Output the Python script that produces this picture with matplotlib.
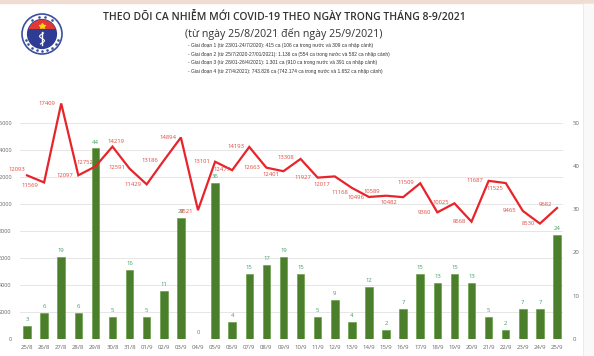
import numpy as np
import matplotlib.pyplot as plt
from matplotlib.patches import Circle, Wedge, Rectangle

plt.rcParams['font.family'] = ['Open Sans', 'DejaVu Sans']

dates = ["25/8", "26/8", "27/8", "28/8", "29/8", "30/8", "31/8", "01/9", "02/9", "03/9",
         "04/9", "05/9", "06/9", "07/9", "08/9", "09/9", "10/9", "11/9", "12/9", "13/9",
         "14/9", "15/9", "16/9", "17/9", "18/9", "19/9", "20/9", "21/9", "22/9", "23/9",
         "24/9", "25/9"]
# ca nhap canh (cot, truc phai)
imported = [3, 6, 19, 6, 44, 5, 16, 5, 11, 28, 0, 36, 4, 15, 17, 19, 15, 5, 9, 4,
            12, 2, 7, 15, 13, 15, 13, 5, 2, 7, 7, 24]
# ca trong nuoc (duong, truc trai)
domestic = [12093, 11569, 17409, 12097, 12752, 14219, 12591, 11429, 13186, 14894,
            9521, 13101, 12477, 14193, 12663, 12401, 13308, 11927, 12017, 11168,
            10496, 10589, 10482, 11509, 9360, 10025, 8668, 11687, 11525, 9465,
            8530, 9682]

title = "THEO DÕI CA NHIỄM MỚI COVID-19 THEO NGÀY TRONG THÁNG 8-9/2021"
subtitle = "(từ ngày 25/8/2021 đến ngày 25/9/2021)"
notes = [
    "- Giai đoạn 1 (từ 23/01-24/7/2020): 415 ca (106 ca trong nước và 309 ca nhập cảnh)",
    "- Giai đoạn 2 (từ 25/7/2020-27/01/2021): 1.136 ca (554 ca trong nước và 582 ca nhập cảnh)",
    "- Giai đoạn 3 (từ 28/01-26/4/2021): 1.301 ca (910 ca trong nước và 391 ca nhập cảnh)",
    "- Giai đoạn 4 (từ 27/4/2021): 743.826 ca (742.174 ca trong nước và 1.652 ca nhập cảnh)",
]

# vi tri nhan so tren duong (pixel)
lab_dx = [-10, -14, -14, -13, -11, 3, -13, -14, -14, -13, -11, -13, -10, -13, -14, -13,
          -15, -15, -13, -12, -13, -14, -14, -14, -13, -14, -12, -14, -11, -13, -12, -12]
lab_dy = [6, -3, 0, 0, 4, 5, 1, 0, 0, 0, -1, 0, 1, 0, 0, -3,
          1, 0, -8, -5, -1, 4, -5, 1, 0, 1, 0, 0, -5, 0, 0, 3]

fig = plt.figure(figsize=(5.94, 3.56), dpi=100)
fig.patch.set_facecolor("white")

# vien tren va ben phai
fig.add_artist(Rectangle((0, 1 - 2.5 / 356), 1, 2.5 / 356, transform=fig.transFigure,
                         color="#efdcd2", zorder=0))
fig.add_artist(Rectangle((583 / 594, 0), 11 / 594, 1 - 2.5 / 356, transform=fig.transFigure,
                         facecolor="#f9f9f9", edgecolor="#e8e8e8", lw=0.6, zorder=0))

x = np.arange(len(dates))
ax = fig.add_axes([20 / 594, 1 - 339 / 356, 543 / 594, 216.5 / 356])
ax2 = ax.twinx()

ax.set_zorder(2)
ax.patch.set_visible(False)

ax2.bar(x, imported, width=0.44, color="#4b7f2c", edgecolor="#5d9a38", lw=0.4)
for xi, v in zip(x, imported):
    ax2.text(xi, v + 0.9, str(v), ha="center", va="bottom", fontsize=4.2, color="#3f9e62")

ax.plot(x, domestic, color="#e8242b", lw=1.6, clip_on=False, solid_joinstyle="miter")
for xi, v, dx, dy in zip(x, domestic, lab_dx, lab_dy):
    ax.annotate(str(v), (xi, v), xytext=(dx, dy), textcoords="offset pixels",
                ha="center", va="center", fontsize=4.2, color="#de4a3f", annotation_clip=False)

ax.set_xlim(-0.41, 31.35)
ax2.set_xlim(-0.41, 31.35)
ax.set_ylim(0, 16000)
ax.set_yticks(np.arange(0, 16001, 2000))
ax2.set_ylim(0, 50)
ax2.set_yticks(np.arange(0, 51, 10))
ax.set_xticks(x)
ax.set_xticklabels(dates)

for yv in np.arange(2000, 16001, 2000):
    ax2.axhline(yv / 16000 * 50, color="#e6e6e6", lw=0.7, zorder=0)

for a in (ax, ax2):
    for s in a.spines.values():
        s.set_visible(False)
    a.tick_params(length=0, labelsize=4.3, labelcolor="#666666")
ax.tick_params(axis="y", pad=6, labelsize=4.0)
ax.tick_params(axis="x", pad=4)
ax2.tick_params(axis="y", pad=7)

# logo Bo Y te
lax = fig.add_axes([20 / 594, 1 - 56 / 356, 44 / 594, 44 / 356])
lax.set_xlim(-1.1, 1.1)
lax.set_ylim(-1.1, 1.1)
lax.axis("off")
lax.add_patch(Circle((0, 0), 1.0, facecolor="white", edgecolor="#3a4fa0", lw=1.2))
lax.add_patch(Circle((0, 0), 0.72, facecolor="#2e3c93", edgecolor="#2e3c93"))
lax.add_patch(Wedge((0, 0), 0.72, 20, 160, facecolor="#e03a32", edgecolor="none"))
lax.add_patch(Rectangle((-0.72, 0.0), 1.44, 0.25, facecolor="#2e3c93", edgecolor="none"))
lax.plot([0.0], [0.42], marker="*", color="#f5d90a", ms=4)
lax.plot([0, 0], [-0.55, 0.12], color="white", lw=1.0)
t = np.linspace(-0.5, 0.05, 40)
lax.plot(0.12 * np.sin(t * 14), t, color="white", lw=0.8)
for ang in np.linspace(200, 340, 9):
    r = np.deg2rad(ang)
    lax.plot(0.86 * np.cos(r), 0.86 * np.sin(r), "s", ms=0.8, color="#3a4fa0")
for ang in np.linspace(55, 125, 4):
    r = np.deg2rad(ang)
    lax.plot(0.86 * np.cos(r), 0.86 * np.sin(r), "s", ms=0.8, color="#3a4fa0")

fig.text(284 / 594, 1 - 17 / 356, title, ha="center", va="center", fontsize=7.45,
         color="#333333", fontweight="semibold")
fig.text(284 / 594, 1 - 34 / 356, subtitle, ha="center", va="center", fontsize=7.7,
         color="#333333")

# co chu cho cac dong ghi chu: dong dai nhat rong khoang 202 px nhu ban goc
note_texts = []
for i, line in enumerate(notes):
    note_texts.append(fig.text(188 / 594, 1 - (46 + i * 8.4) / 356, line, ha="left",
                               va="center", fontsize=5.0, color="#333333",
                               family=["Liberation Sans", "DejaVu Sans"]))
renderer = fig.canvas.get_renderer()
w = note_texts[1].get_window_extent(renderer).width
for tx in note_texts:
    tx.set_fontsize(5.0 * 202 / w)

fig.savefig("out.png", dpi=100)
